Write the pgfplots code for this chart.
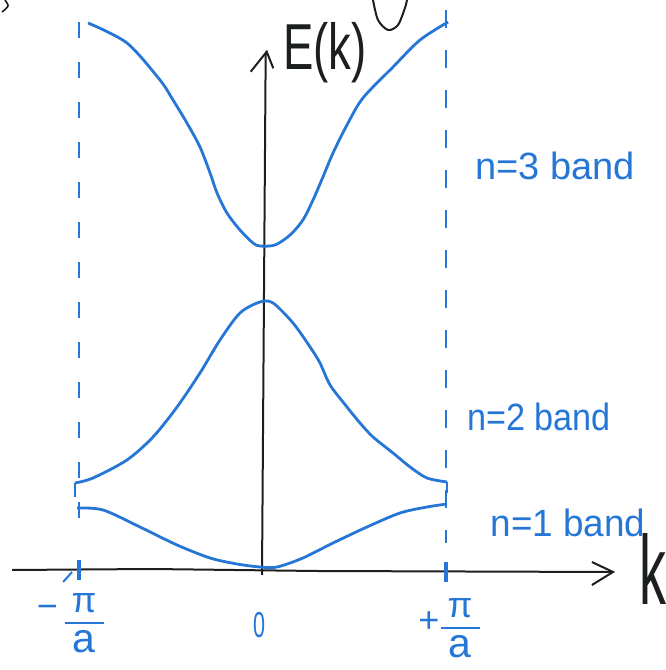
\documentclass[border=0pt]{standalone}
\usepackage{fontspec}
\setmainfont{Liberation Sans}
\usepackage{graphicx}
\usepackage{pgfplots}
\pgfplotsset{compat=1.18}
\definecolor{pen}{RGB}{38,118,214}
\definecolor{ink}{RGB}{28,32,28}

% pi over a, stacked by hand with a thick bar
\newcommand{\piovera}{\vbox{\offinterlineskip\halign{\hfil##\hfil\cr
  \fontsize{36}{36}\selectfont π\cr
  \noalign{\kern 9pt}
  \rule{39pt}{2.4pt}\cr
  \noalign{\kern 6pt}
  \fontsize{41}{41}\selectfont a\cr}}}

\begin{document}
\begin{tikzpicture}
\begin{axis}[
  scale only axis, width=666pt, height=670pt,
  xmin=-1.4278, xmax=2.2016, ymin=-1.0, ymax=5.70,
  hide axis, clip=false,
]
% zone boundaries at k = -pi/a and +pi/a
\addplot[pen, line width=2.6pt, dash pattern=on 16pt off 24pt] coordinates {(-0.997,5.48) (-0.997,0.42)};
\addplot[pen, line width=2.6pt, dash pattern=on 18pt off 22pt] coordinates {(1.003,5.60) (1.003,0.27)};

% k axis
\addplot[ink, line width=2pt] coordinates {(-1.362,0.00) (-0.60,0.01) (0.30,-0.01) (1.913,-0.02)};
\addplot[ink, line width=2pt] coordinates {(1.798,0.08) (1.913,-0.02) (1.798,-0.15)};
% E axis
\addplot[ink, line width=2pt] coordinates {(0,-0.05) (0.02,5.15) (0.0256,5.183)};
\addplot[ink, line width=2pt] coordinates {(-0.0616,4.983) (0.0256,5.183) (0.0616,5.017)};

% tick strokes on the k axis
\addplot[pen, line width=4pt] coordinates {(-0.997,0.10) (-0.997,-0.10)};
\addplot[pen, line width=2pt] coordinates {(-1.084,-0.12) (-1.035,-0.02)};
\addplot[pen, line width=4pt] coordinates {(1.003,0.08) (1.003,-0.12)};

% n = 3 band
\addplot[pen, line width=2.8pt, smooth, tension=0.5] coordinates {
  (-0.948,5.47) (-0.736,5.27) (-0.556,4.90) (-0.485,4.70) (-0.409,4.47)
  (-0.338,4.23) (-0.283,3.97) (-0.245,3.77) (-0.191,3.57) (-0.120,3.40)
  (-0.049,3.27) (-0.011,3.24) (0.071,3.25) (0.153,3.35) (0.223,3.50)
  (0.278,3.70) (0.332,3.93) (0.387,4.17) (0.463,4.45) (0.550,4.72)
  (0.714,5.03) (0.861,5.30) (1.014,5.48)};

% n = 2 band
\addplot[pen, line width=2.8pt, smooth, tension=0.5] coordinates {
  (-1.019,0.87) (-0.921,0.92) (-0.736,1.10) (-0.594,1.33) (-0.463,1.63)
  (-0.338,1.97) (-0.229,2.30) (-0.120,2.57) (-0.011,2.68) (0.060,2.67)
  (0.169,2.47) (0.262,2.23) (0.316,2.07) (0.371,1.85) (0.463,1.63)
  (0.534,1.47) (0.605,1.33) (0.714,1.17) (0.807,1.03) (0.899,0.92)
  (1.008,0.88)};
\addplot[pen, line width=2.8pt] coordinates {(-1.019,0.87) (-1.019,0.73)};
\addplot[pen, line width=2.8pt] coordinates {(1.008,0.88) (1.008,0.77)};

% n = 1 band
\addplot[pen, line width=2.8pt, smooth, tension=0.5] coordinates {
  (-1.008,0.62) (-0.866,0.60) (-0.665,0.43) (-0.463,0.25) (-0.283,0.12)
  (-0.136,0.06) (-0.011,0.03) (0.082,0.03) (0.223,0.12) (0.387,0.27)
  (0.572,0.43) (0.752,0.57) (0.899,0.63) (1.008,0.66)};

% stray pen strokes along the top edge
\addplot[ink, line width=2pt, smooth] coordinates {(0.605,5.70) (0.632,5.50) (0.687,5.40) (0.741,5.45) (0.779,5.62) (0.790,5.70)};
\addplot[ink, line width=1.6pt, smooth] coordinates {(-1.401,5.70) (-1.384,5.64) (-1.417,5.58)};

% axis labels
\node[ink, anchor=base, inner sep=0pt] at (axis cs:0.343,5.00)
  {\fontsize{65}{70}\selectfont\scalebox{0.7}[1]{E(k)}};
\node[ink, anchor=base, inner sep=0pt] at (axis cs:2.131,-0.35)
  {\fontsize{98}{100}\selectfont\scalebox{0.55}[1]{k}};

% band names
\node[pen, anchor=base, inner sep=0pt] at (axis cs:1.597,3.90)
  {\fontsize{38}{40}\selectfont n=3 band};
\node[pen, anchor=base, inner sep=0pt] at (axis cs:1.510,1.39)
  {\fontsize{38}{40}\selectfont\scalebox{0.9}[1]{n=2 band}};
\node[pen, anchor=base, inner sep=0pt] at (axis cs:1.668,0.33)
  {\fontsize{38}{40}\selectfont\scalebox{0.97}[1]{n=1 band}};

% k tick labels
\node[pen, anchor=base, inner sep=0pt] at (axis cs:-1.169,-0.485) {\fontsize{36}{40}\selectfont −};
\node[pen, anchor=north, inner sep=0pt] at (axis cs:-0.970,-0.23) {\piovera};

\node[pen, anchor=base, inner sep=0pt] at (axis cs:-0.016,-0.68) {\fontsize{36}{40}\selectfont\scalebox{0.6}[1]{0}};

\node[pen, anchor=base, inner sep=0pt] at (axis cs:0.910,-0.63) {\fontsize{36}{40}\selectfont +};
\node[pen, anchor=north, inner sep=0pt] at (axis cs:1.079,-0.28) {\piovera};
\end{axis}
\pgfresetboundingbox
\useasboundingbox (current axis.south west) rectangle (current axis.north east);
\end{tikzpicture}
\end{document}
